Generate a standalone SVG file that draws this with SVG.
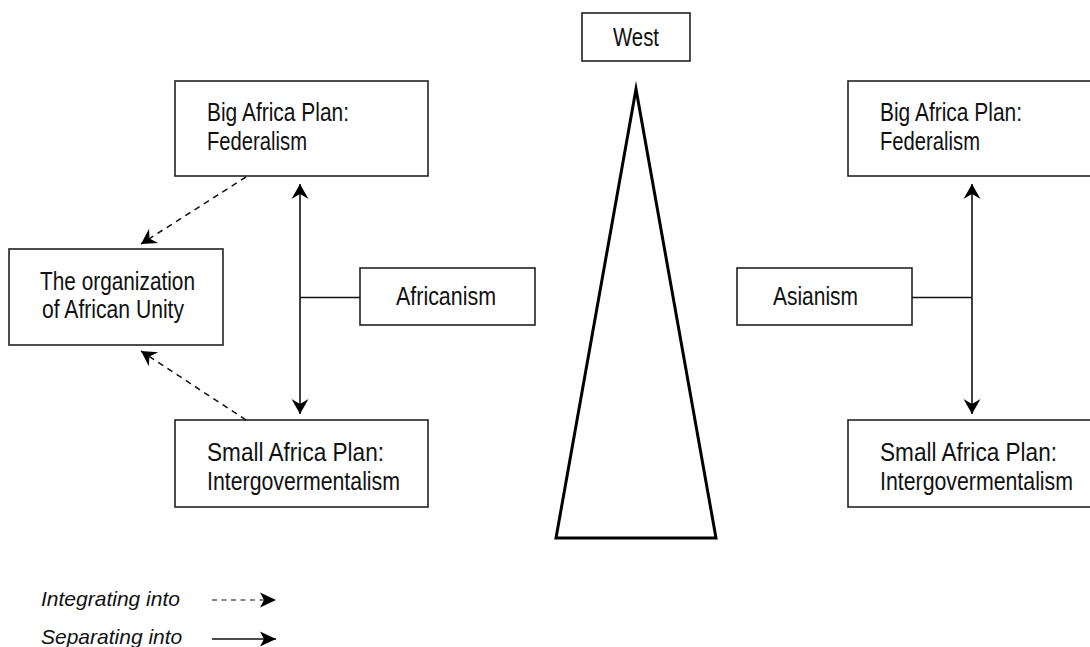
<svg xmlns="http://www.w3.org/2000/svg" width="1090" height="647" viewBox="0 0 1090 647">
<style>
.box{fill:#fff;stroke:#222;stroke-width:1.6}
.t{font-family:"Liberation Sans",Arial,sans-serif;font-size:25px;fill:#111}
.leg{font-family:"Liberation Sans",Arial,sans-serif;font-size:21px;font-style:italic;fill:#111}
.ln{fill:none;stroke:#111;stroke-width:1.6}
.dash{fill:none;stroke:#111;stroke-width:1.5;stroke-dasharray:6 5}
</style>
<defs>
<marker id="ah" markerUnits="userSpaceOnUse" markerWidth="40" markerHeight="40" refX="0" refY="0" orient="auto" overflow="visible">
<path d="M0,0 L-15,-8.5 L-10,0 L-15,8.5 Z" fill="#000"/>
</marker>
<marker id="ahs" markerUnits="userSpaceOnUse" markerWidth="40" markerHeight="40" refX="0" refY="0" orient="auto" overflow="visible">
<path d="M0,0 L-16,-7.5 L-12,0 L-16,7.5 Z" fill="#000"/>
</marker>
</defs>
<rect width="1090" height="647" fill="#fff"/>

<g id="west">
<rect class="box" x="582" y="13" width="108" height="48"/>
<text class="t" x="613" y="45.5" textLength="46" lengthAdjust="spacingAndGlyphs">West</text>
</g>
<g id="triangle">
<path d="M636,89 L716,538 L556,538 Z" fill="#fff" stroke="#000" stroke-width="3" stroke-linejoin="miter" stroke-miterlimit="10"/>
</g>

<g id="bigL">
<rect class="box" x="175" y="81" width="253" height="95"/>
<text class="t" x="207" y="121" textLength="142" lengthAdjust="spacingAndGlyphs">Big Africa Plan:</text>
<text class="t" x="207" y="150" textLength="100" lengthAdjust="spacingAndGlyphs">Federalism</text>
</g>
<g id="oau">
<rect class="box" x="9" y="249" width="214" height="96"/>
<text class="t" x="40" y="290" textLength="155" lengthAdjust="spacingAndGlyphs">The organization</text>
<text class="t" x="42" y="318" textLength="142" lengthAdjust="spacingAndGlyphs">of African Unity</text>
</g>
<g id="africanism">
<rect class="box" x="360" y="268" width="175" height="57"/>
<text class="t" x="396" y="305" textLength="100" lengthAdjust="spacingAndGlyphs">Africanism</text>
</g>
<g id="smallL">
<rect class="box" x="175" y="420" width="253" height="87"/>
<text class="t" x="207" y="461" textLength="177" lengthAdjust="spacingAndGlyphs">Small Africa Plan:</text>
<text class="t" x="207" y="490" textLength="193" lengthAdjust="spacingAndGlyphs">Intergovermentalism</text>
</g>

<g id="bigR">
<rect class="box" x="848" y="81" width="253" height="95"/>
<text class="t" x="880" y="121" textLength="142" lengthAdjust="spacingAndGlyphs">Big Africa Plan:</text>
<text class="t" x="880" y="150" textLength="100" lengthAdjust="spacingAndGlyphs">Federalism</text>
</g>
<g id="asianism">
<rect class="box" x="737" y="268" width="175" height="57"/>
<text class="t" x="773" y="305" textLength="85" lengthAdjust="spacingAndGlyphs">Asianism</text>
</g>
<g id="smallR">
<rect class="box" x="848" y="420" width="253" height="87"/>
<text class="t" x="880" y="461" textLength="177" lengthAdjust="spacingAndGlyphs">Small Africa Plan:</text>
<text class="t" x="880" y="490" textLength="193" lengthAdjust="spacingAndGlyphs">Intergovermentalism</text>
</g>

<g id="connectors">
<line class="ln" x1="300" y1="297.5" x2="300" y2="184" marker-end="url(#ah)"/>
<line class="ln" x1="300" y1="297.5" x2="300" y2="414" marker-end="url(#ah)"/>
<line class="ln" x1="300" y1="297.5" x2="360" y2="297.5"/>
<line class="ln" x1="972" y1="297.5" x2="972" y2="184" marker-end="url(#ah)"/>
<line class="ln" x1="972" y1="297.5" x2="972" y2="414" marker-end="url(#ah)"/>
<line class="ln" x1="912" y1="297.5" x2="972" y2="297.5"/>
<line class="dash" x1="246" y1="177" x2="141" y2="244" marker-end="url(#ah)"/>
<line class="dash" x1="246" y1="420" x2="141" y2="351" marker-end="url(#ah)"/>
</g>

<g id="legend">
<text class="leg" x="41" y="606">Integrating into</text>
<text class="leg" x="41" y="644">Separating into</text>
<line x1="212" y1="600" x2="276" y2="600" stroke="#111" stroke-width="1.2" stroke-dasharray="5 4.5" marker-end="url(#ahs)"/>
<line x1="212" y1="639" x2="276" y2="639" stroke="#111" stroke-width="1.6" marker-end="url(#ahs)"/>
</g>
</svg>
